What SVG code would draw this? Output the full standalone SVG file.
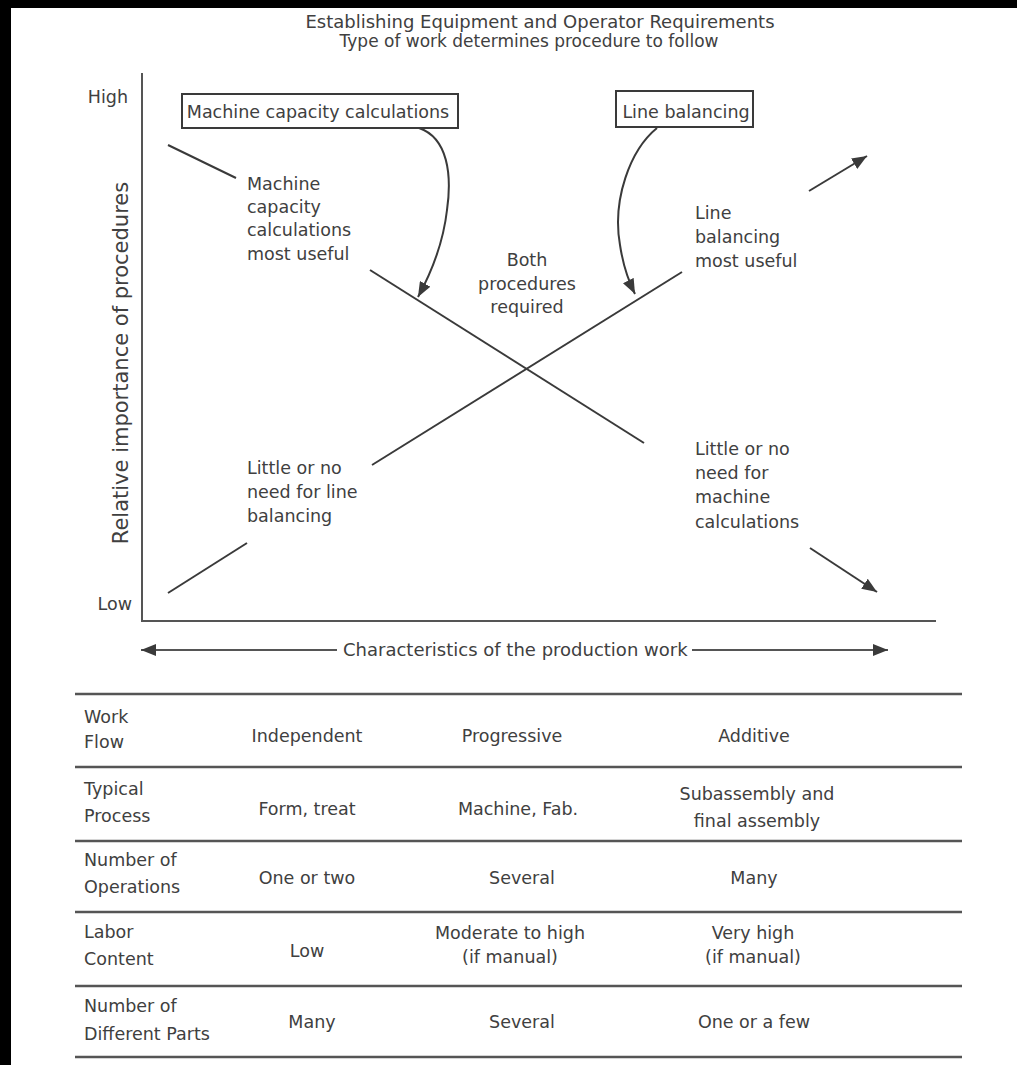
<svg xmlns="http://www.w3.org/2000/svg" width="1017" height="1065" viewBox="0 0 1017 1065">
<style>
text{font-family:"DejaVu Sans","Liberation Sans",sans-serif;font-size:17.5px;fill:#404040}
.c{text-anchor:middle}
.e{text-anchor:end}
.ln{stroke:#3a3a3a;stroke-width:2;fill:none}
.ax{stroke:#555;stroke-width:2;fill:none}
.tb{stroke:#555;stroke-width:2.5}
.box{fill:#fff;stroke:#3a3a3a;stroke-width:2}
</style>
<defs>
<marker id="ah" markerUnits="userSpaceOnUse" markerWidth="16" markerHeight="12" refX="15" refY="6" orient="auto">
<path d="M0,0 L15,6 L0,12 Z" fill="#3a3a3a"/>
</marker>
</defs>
<rect width="1017" height="1065" fill="#fff"/>
<rect x="0" y="0" width="1017" height="8" fill="#000"/>
<rect x="0" y="0" width="11" height="1065" fill="#000"/>

<g id="title">
<text class="c" x="540" y="28" style="font-size:18px">Establishing Equipment and Operator Requirements</text>
<text class="c" x="529" y="47" style="font-size:17px">Type of work determines procedure to follow</text>
</g>

<g id="axes-labels">
<text class="e" x="128" y="103">High</text>
<text class="e" x="132" y="610">Low</text>
<text class="c" transform="translate(128,363) rotate(-90)" style="font-size:21px">Relative importance of procedures</text>
<text x="343" y="656" style="font-size:18px">Characteristics of the production work</text>
</g>

<g id="box-machine">
<rect class="box" x="182" y="94" width="276" height="34"/>
<text class="c" x="318" y="118">Machine capacity calculations</text>
</g>
<g id="box-line">
<rect class="box" x="616" y="91" width="137" height="36"/>
<text class="c" x="686" y="118">Line balancing</text>
</g>

<g id="label-machine-useful">
<text x="247" y="190">Machine</text>
<text x="247" y="213">capacity</text>
<text x="247" y="236">calculations</text>
<text x="247" y="260">most useful</text>
</g>
<g id="label-both">
<text class="c" x="527" y="266">Both</text>
<text class="c" x="527" y="290">procedures</text>
<text class="c" x="527" y="313">required</text>
</g>
<g id="label-line-useful">
<text x="695" y="219">Line</text>
<text x="695" y="243">balancing</text>
<text x="695" y="267">most useful</text>
</g>
<g id="label-no-line">
<text x="247" y="474">Little or no</text>
<text x="247" y="498">need for line</text>
<text x="247" y="522">balancing</text>
</g>
<g id="label-no-machine">
<text x="695" y="455">Little or no</text>
<text x="695" y="479">need for</text>
<text x="695" y="503">machine</text>
<text x="695" y="528">calculations</text>
</g>

<g id="connectors">
<path class="ax" d="M142,73 V621 H936"/>
<line class="ax" x1="337" y1="650" x2="141" y2="650" marker-end="url(#ah)"/>
<line class="ax" x1="692" y1="650" x2="888" y2="650" marker-end="url(#ah)"/>
<line class="ln" x1="168" y1="145" x2="236" y2="178"/>
<line class="ln" x1="370" y1="270" x2="644" y2="443"/>
<line class="ln" x1="810" y1="548" x2="877" y2="592" marker-end="url(#ah)"/>
<line class="ln" x1="168" y1="593" x2="247" y2="543"/>
<line class="ln" x1="372" y1="465" x2="682" y2="272"/>
<line class="ln" x1="809" y1="191" x2="867" y2="156" marker-end="url(#ah)"/>
<path class="ln" d="M419,128 C448,138 452,175 447,210 C443,245 430,275 418,297" marker-end="url(#ah)"/>
<path class="ln" d="M657,128 C630,150 612,200 620,245 C623,265 628,280 635,294" marker-end="url(#ah)"/>
</g>

<g id="table">
<line class="tb" x1="75" y1="694" x2="962" y2="694"/>
<line class="tb" x1="75" y1="767" x2="962" y2="767"/>
<line class="tb" x1="75" y1="841" x2="962" y2="841"/>
<line class="tb" x1="75" y1="912" x2="962" y2="912"/>
<line class="tb" x1="75" y1="986" x2="962" y2="986"/>
<line class="tb" x1="75" y1="1057" x2="962" y2="1057"/>
</g>
<g id="row-workflow">
<text x="84" y="723">Work</text>
<text x="84" y="748">Flow</text>
<text class="c" x="307" y="742">Independent</text>
<text class="c" x="512" y="742">Progressive</text>
<text class="c" x="754" y="742">Additive</text>
</g>
<g id="row-process">
<text x="84" y="795">Typical</text>
<text x="84" y="822">Process</text>
<text class="c" x="307" y="815">Form, treat</text>
<text class="c" x="518" y="815">Machine, Fab.</text>
<text class="c" x="757" y="800">Subassembly and</text>
<text class="c" x="757" y="827">final assembly</text>
</g>
<g id="row-operations">
<text x="84" y="866">Number of</text>
<text x="84" y="893">Operations</text>
<text class="c" x="307" y="884">One or two</text>
<text class="c" x="522" y="884">Several</text>
<text class="c" x="754" y="884">Many</text>
</g>
<g id="row-labor">
<text x="84" y="938">Labor</text>
<text x="84" y="965">Content</text>
<text class="c" x="307" y="957">Low</text>
<text class="c" x="510" y="939">Moderate to high</text>
<text class="c" x="510" y="963">(if manual)</text>
<text class="c" x="753" y="939">Very high</text>
<text class="c" x="753" y="963">(if manual)</text>
</g>
<g id="row-parts">
<text x="84" y="1012">Number of</text>
<text x="84" y="1040">Different Parts</text>
<text class="c" x="312" y="1028">Many</text>
<text class="c" x="522" y="1028">Several</text>
<text class="c" x="754" y="1028">One or a few</text>
</g>
</svg>
